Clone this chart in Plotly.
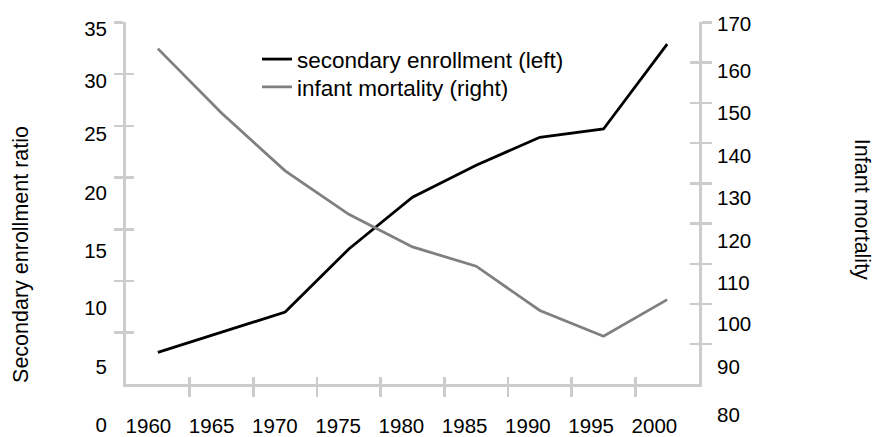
import plotly.graph_objects as go

# ---------------- data ----------------
YEARS = [1960, 1965, 1970, 1975, 1980, 1985, 1990, 1995, 2000]
ENROLLMENT = [3.1, 5.05, 7.0, 13.1, 18.1, 21.2, 23.9, 24.7, 32.9]        # left axis
MORTALITY = [163.5, 147.5, 133.1, 122.3, 114.2, 109.4, 98.4, 92.0, 101.1]  # right axis

LEFT_TICKS = [5, 10, 15, 20, 25, 30, 35]
LEFT_LABELS = ["35", "30", "25", "20", "15", "10", "5", "0"]
RIGHT_TICKS = [90, 100, 110, 120, 130, 140, 150, 160, 170]
RIGHT_LABELS = ["170", "160", "150", "140", "130", "120", "110", "100", "90", "80"]
X_LABELS = [str(y) for y in YEARS]

# ---------------- layout geometry (pixels) ----------------
W, H = 873, 437
X0, X1 = 126, 699          # plot frame left/right
Y0, Y1 = 22.7, 388         # plot frame top/bottom
# label placement as drawn in the reference (label centres, px)
LEFT_LABEL_PX = [29.2, 81.7, 135.0, 194.5, 252.8, 310.8, 370.0, 428.3]
RIGHT_LABEL_PX = [24.2, 71.7, 114.3, 157.0, 200.0, 242.8, 285.0, 326.7, 370.0, 418.3]
X_LABEL_PX = [148.4 + 63.25 * i for i in range(len(YEARS))]

FONT = "Liberation Sans Narrow, Arial Narrow, Liberation Sans, Arial, sans-serif"
AX = "#cccccc"
TICK_SIZE = 20.5
LEGEND_SIZE = 22.5
TITLE_SIZE = 21.5


def fx(px):
    return px / W


def fy(py):
    return 1 - py / H


xr = [YEARS[0] - 2.5, YEARS[-1] + 2.5]
x_bounds = [y + 2.5 for y in YEARS[:-1]]

fig = go.Figure()
fig.add_trace(go.Scatter(x=YEARS, y=ENROLLMENT, mode="lines", name="secondary enrollment (left)",
                         line=dict(color="#000000", width=2.8), xaxis="x", yaxis="y", legend="legend"))
fig.add_trace(go.Scatter(x=YEARS, y=MORTALITY, mode="lines", name="infant mortality (right)",
                         line=dict(color="#808080", width=2.8), xaxis="x", yaxis="y2", legend="legend2"))
# helper (empty) traces so every auxiliary axis belongs to a subplot
for xa, ya in [("x2", "y"), ("x", "y3"), ("x", "y4"), ("x3", "y5"), ("x3", "y6")]:
    fig.add_trace(go.Scatter(x=[None], y=[None], xaxis=xa, yaxis=ya, showlegend=False,
                             hoverinfo="skip", mode="lines"))

common = dict(showgrid=False, zeroline=False, fixedrange=True)
tickstyle = dict(tickcolor=AX, tickwidth=2.5)
tfont = dict(family=FONT, size=TICK_SIZE, color="#000000")

fig.update_layout(
    width=W, height=H,
    margin=dict(l=0, r=0, t=0, b=0),
    paper_bgcolor="white", plot_bgcolor="rgba(0,0,0,0)",
    font=dict(family=FONT, size=TICK_SIZE, color="#000000"),
    hovermode=False,
    xaxis=dict(domain=[fx(X0), fx(X1)], range=xr, anchor="y", showline=True, linecolor=AX, linewidth=3,
               ticks="outside", ticklen=10, tickvals=x_bounds, showticklabels=False, **tickstyle, **common),
    xaxis2=dict(overlaying="x", anchor="y", side="bottom", range=xr, ticks="inside", ticklen=7,
                tickvals=x_bounds, showticklabels=False, showline=False, **tickstyle, **common),
    yaxis=dict(domain=[fy(Y1), fy(Y0)], range=[0, 35], anchor="x", side="left", showline=True,
               linecolor=AX, linewidth=3, ticks="outside", ticklen=9, tickvals=LEFT_TICKS,
               showticklabels=False, **tickstyle, **common),
    yaxis2=dict(overlaying="y", anchor="x", side="right", range=[80, 170], showline=True,
                linecolor=AX, linewidth=3, ticks="outside", ticklen=10, tickvals=RIGHT_TICKS,
                showticklabels=False, **tickstyle, **common),
    yaxis3=dict(overlaying="y", anchor="x", side="left", range=[0, 35], ticks="inside", ticklen=8,
                tickvals=LEFT_TICKS, showticklabels=False, showline=False, **tickstyle, **common),
    yaxis4=dict(overlaying="y", anchor="x", side="right", range=[80, 170], ticks="inside", ticklen=9,
                tickvals=RIGHT_TICKS, showticklabels=False, showline=False, **tickstyle, **common),
    # label axes (pixel space, spanning the whole page)
    xaxis3=dict(domain=[0, 1], range=[0, W], anchor="free", position=fy(415), side="bottom",
                tickvals=X_LABEL_PX, ticktext=X_LABELS, ticks="", showline=False,
                tickfont=tfont, **common),
    yaxis5=dict(domain=[0, 1], range=[H, 0], anchor="free", position=fx(107), side="left",
                tickvals=LEFT_LABEL_PX, ticktext=LEFT_LABELS, ticks="", showline=False,
                tickfont=tfont, **common),
    yaxis6=dict(overlaying="y5", range=[H, 0], anchor="free", position=fx(716), side="right",
                tickvals=RIGHT_LABEL_PX, ticktext=RIGHT_LABELS, ticks="", showline=False,
                tickfont=tfont, **common),
    legend=dict(x=fx(257), y=fy(60), xanchor="left", yanchor="middle", bgcolor="rgba(0,0,0,0)",
                borderwidth=0, font=dict(family=FONT, size=LEGEND_SIZE, color="#000000")),
    legend2=dict(x=fx(257), y=fy(88), xanchor="left", yanchor="middle", bgcolor="rgba(0,0,0,0)",
                 borderwidth=0, font=dict(family=FONT, size=LEGEND_SIZE, color="#000000")),
    annotations=[
        dict(text="Secondary enrollment ratio", x=fx(21), y=fy(257.3), xref="paper", yref="paper",
             xanchor="center", yanchor="middle", textangle=-90, showarrow=False,
             font=dict(family=FONT, size=TITLE_SIZE, color="#000000")),
        dict(text="Infant mortality", x=fx(862), y=fy(210.8), xref="paper", yref="paper",
             xanchor="center", yanchor="middle", textangle=90, showarrow=False,
             font=dict(family=FONT, size=TITLE_SIZE, color="#000000")),
    ],
)

fig.write_html("out.html", config={"displayModeBar": False, "staticPlot": True},
               post_script="document.body.style.margin = '0px';")
